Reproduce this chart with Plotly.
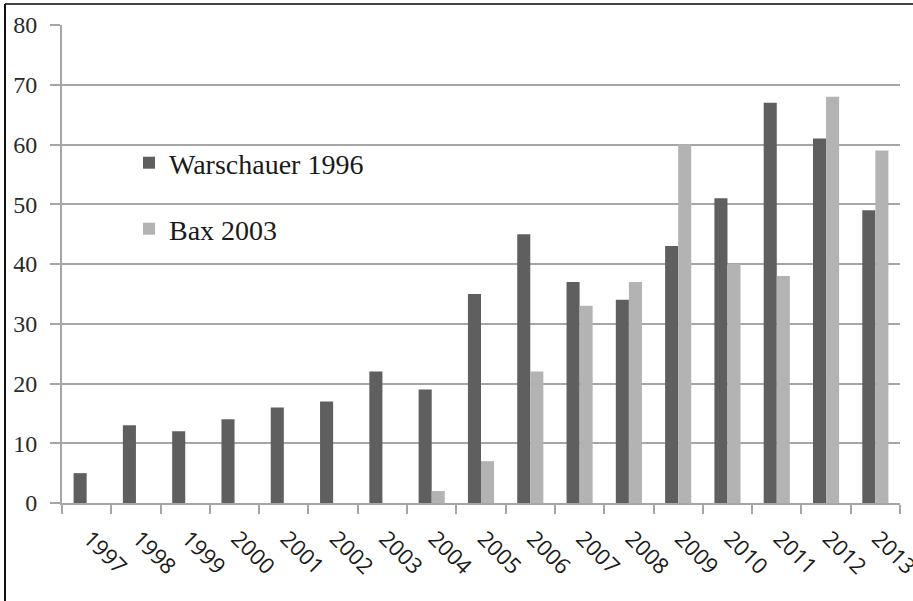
import plotly.graph_objects as go

years = ["1997", "1998", "1999", "2000", "2001", "2002", "2003", "2004", "2005",
         "2006", "2007", "2008", "2009", "2010", "2011", "2012", "2013"]
warschauer = [5, 13, 12, 14, 16, 17, 22, 19, 35, 45, 37, 34, 43, 51, 67, 61, 49]
bax = [0, 0, 0, 0, 0, 0, 0, 2, 7, 22, 33, 37, 60, 40, 38, 68, 59]
y_ticks = [0, 10, 20, 30, 40, 50, 60, 70, 80]

fig = go.Figure()
fig.add_trace(go.Bar(x=years, y=warschauer, name="Warschauer 1996",
                     marker=dict(color="#5f5f5f", line=dict(width=0)), legend="legend"))
fig.add_trace(go.Bar(x=years, y=bax, name="Bax 2003",
                     marker=dict(color="#b3b3b3", line=dict(width=0)), legend="legend2"))

W, H = 913, 601
L, R, T, B = 62, 13, 25, 98
pw, ph = W - L - R, H - T - B

def px(x):
    return (x - L) / pw

def py(y):
    return (H - B - y) / ph

legend_font = dict(family="Liberation Serif", size=28, color="#1a1a1a")
fig.update_layout(
    width=W, height=H,
    margin=dict(l=L, r=R, t=T, b=B, pad=0, autoexpand=False),
    paper_bgcolor="white", plot_bgcolor="white",
    barmode="group", bargap=0.47, bargroupgap=0,
    showlegend=True,
    legend=dict(x=px(129), y=py(163), xanchor="left", yanchor="middle",
                font=legend_font, bgcolor="rgba(0,0,0,0)"),
    legend2=dict(x=px(129), y=py(229), xanchor="left", yanchor="middle",
                 font=legend_font, bgcolor="rgba(0,0,0,0)"),
    xaxis=dict(type="category", tickangle=45, tickson="boundaries",
               ticks="outside", ticklen=9, tickwidth=2, tickcolor="#a6a6a6",
               showline=True, linecolor="#a6a6a6", linewidth=2,
               showgrid=False, ticklabelstandoff=12, ticklabelshift=3,
               automargin=False,
               tickfont=dict(family="Open Sans", size=22, color="#1a1a1a")),
    yaxis=dict(range=[0, 80], tickvals=y_ticks, ticks="outside", ticklen=10,
               tickwidth=2, tickcolor="#a6a6a6",
               showline=True, linecolor="#a6a6a6", linewidth=2,
               showgrid=True, gridcolor="#a6a6a6", gridwidth=2,
               zeroline=False, ticklabelstandoff=8, automargin=False,
               tickfont=dict(family="Liberation Serif", size=24, color="#2a2a2a")),
    shapes=[
        dict(type="line", xref="paper", yref="paper", x0=px(5), x1=px(913),
             y0=py(4), y1=py(4), line=dict(color="#444444", width=2)),
        dict(type="line", xref="paper", yref="paper", x0=px(5), x1=px(5),
             y0=py(4), y1=py(601), line=dict(color="#111111", width=2)),
    ],
)

fig.write_html("out.html", config={"displayModeBar": False},
               post_script="document.body.style.margin='0px';document.body.style.overflow='hidden';")
